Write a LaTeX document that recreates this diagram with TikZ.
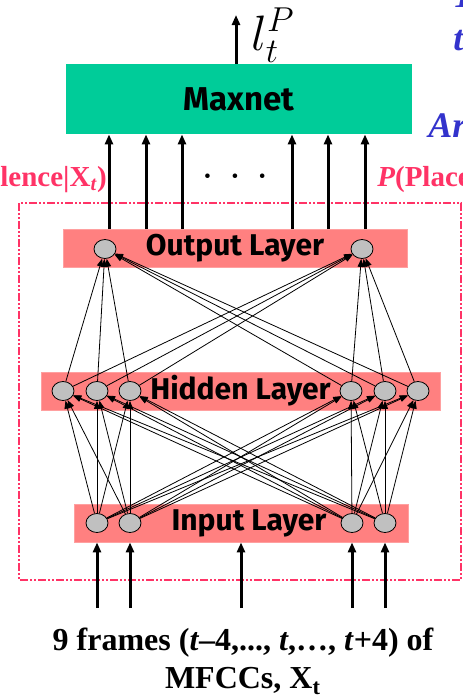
\documentclass[tikz,border=0pt]{standalone}
\usepackage{fontspec}
\setmainfont{Liberation Serif}
\newfontfamily\layerfont{Fira Sans}
\usepackage{tikz}
\usetikzlibrary{arrows.meta, shapes.geometric}
\usepackage{xcolor}
\definecolor{maxgreen}{RGB}{0,204,153}
\definecolor{layerred}{RGB}{255,128,128}
\definecolor{layeredge}{RGB}{255,160,160}
\definecolor{neurongray}{RGB}{192,192,192}
\definecolor{probred}{RGB}{255,51,102}
\definecolor{noteblue}{RGB}{51,51,204}

\begin{document}
\begin{tikzpicture}[x=0.5pt, y=-0.5pt,
    box/.style={rectangle, fill=maxgreen, inner sep=0pt, font=\layerfont\bfseries\fontsize{16.5}{18}\selectfont},
    layer/.style={rectangle, fill=layerred, draw=layeredge, thin, inner sep=0pt, minimum height=19pt, font=\layerfont\bfseries\fontsize{15}{17}\selectfont},
    neuron/.style={ellipse, draw, fill=neurongray, thin, minimum width=11pt, minimum height=9.5pt, inner sep=0pt},
    conn/.style={-{Triangle[length=4pt, width=3pt]}, line width=0.4pt},
    feed/.style={-{Triangle[length=5pt, width=4pt]}, line width=1.5pt},
    prob/.style={font=\bfseries\fontsize{14.5}{16}\selectfont, text=probred, inner sep=0pt, anchor=base west},
    note/.style={font=\bfseries\itshape\fontsize{18}{20}\selectfont, text=noteblue, inner sep=0pt, anchor=base west},
    frame/.style={draw=probred, line width=1pt, dash pattern=on 4pt off 1pt on 1pt off 1pt on 1pt off 1pt}]
\useasboundingbox (0,0) rectangle (462,696);

% dash-dot frame round the network
\draw[frame] (19,203) rectangle (461,580);

% layers
\node[box, minimum width=173pt, minimum height=35pt] (maxnet) at (239,99) {Maxnet};
\node[layer, minimum width=172pt] (outlayer) at (235,248.5) {Output Layer};
\node[layer, minimum width=199.5pt] (hidlayer) at (240.5,391) {Hidden Layer};
\node[layer, minimum width=167pt] (inlayer) at (241,523) {\hspace{8pt}Input Layer};

% neurons
\node[neuron] (o1) at (105,249) {};
\node[neuron] (o2) at (362,249) {};
\node[neuron] (h1) at (63,391) {};
\node[neuron] (h2) at (97,391) {};
\node[neuron] (h3) at (130,391) {};
\node[neuron] (h4) at (351,391) {};
\node[neuron] (h5) at (385,391) {};
\node[neuron] (h6) at (418,391) {};
\node[neuron] (x1) at (97,523) {};
\node[neuron] (x2) at (130,523) {};
\node[neuron] (x3) at (352,523) {};
\node[neuron] (x4) at (385,523) {};

% hidden -> output
\draw[conn] (h1) -- (o1);
\draw[conn] (h1) -- (o2);
\draw[conn] (h2) -- (o1);
\draw[conn] (h2) -- (o2);
\draw[conn] (h3) -- (o1);
\draw[conn] (h3) -- (o2);
\draw[conn] (h4) -- (o1);
\draw[conn] (h4) -- (o2);
\draw[conn] (h5) -- (o1);
\draw[conn] (h5) -- (o2);
\draw[conn] (h6) -- (o1);
\draw[conn] (h6) -- (o2);

% input -> hidden
\draw[conn] (x1) -- (h1);
\draw[conn] (x1) -- (h2);
\draw[conn] (x1) -- (h3);
\draw[conn] (x1) -- (h4);
\draw[conn] (x1) -- (h5);
\draw[conn] (x1) -- (h6);
\draw[conn] (x2) -- (h1);
\draw[conn] (x2) -- (h2);
\draw[conn] (x2) -- (h3);
\draw[conn] (x2) -- (h4);
\draw[conn] (x2) -- (h5);
\draw[conn] (x2) -- (h6);
\draw[conn] (x3) -- (h1);
\draw[conn] (x3) -- (h2);
\draw[conn] (x3) -- (h3);
\draw[conn] (x3) -- (h4);
\draw[conn] (x3) -- (h5);
\draw[conn] (x3) -- (h6);
\draw[conn] (x4) -- (h1);
\draw[conn] (x4) -- (h2);
\draw[conn] (x4) -- (h3);
\draw[conn] (x4) -- (h4);
\draw[conn] (x4) -- (h5);
\draw[conn] (x4) -- (h6);

% output layer -> maxnet
\draw[feed] (outlayer.north -| 109,0) -- (maxnet.south -| 109,0);
\draw[feed] (outlayer.north -| 146,0) -- (maxnet.south -| 146,0);
\draw[feed] (outlayer.north -| 182,0) -- (maxnet.south -| 182,0);
\draw[feed] (outlayer.north -| 292,0) -- (maxnet.south -| 292,0);
\draw[feed] (outlayer.north -| 328,0) -- (maxnet.south -| 328,0);
\draw[feed] (outlayer.north -| 365,0) -- (maxnet.south -| 365,0);
\node[font=\bfseries\fontsize{14}{16}\selectfont] (dots) at (235,180) {·\hspace{9pt}·\hspace{9pt}·};

% maxnet output
\coordinate (lt) at (236,15);
\draw[feed] (maxnet.north -| lt) -- (lt);
\node[inner sep=0pt, anchor=base west, font=\fontsize{25}{27}\selectfont] (label) at (251,50) {$l_t^P$};

% frame inputs
\coordinate (f1) at (97,608);
\coordinate (f2) at (130,608);
\coordinate (f3) at (241,608);
\coordinate (f4) at (352,608);
\coordinate (f5) at (385,608);
\draw[feed] (f1) -- (f1 |- inlayer.south);
\draw[feed] (f2) -- (f2 |- inlayer.south);
\draw[feed] (f3) -- (f3 |- inlayer.south);
\draw[feed] (f4) -- (f4 |- inlayer.south);
\draw[feed] (f5) -- (f5 |- inlayer.south);

% class posteriors and side notes
\node[prob] (psil) at (0,186) {lence\textbar X\textsubscript{\itshape t})};
\node[prob] (pplace) at (377,186) {\itshape P\upshape(Place};
\node[note] (note1) at (452,7) {T};
\node[note] (note2) at (453,50) {t};
\node[note] (note3) at (428,137) {Ar};

\node[inner sep=0pt, anchor=north, align=center, font=\bfseries\fontsize{16}{19}\selectfont] (mfcc) at (243,628)
  {9 frames (\textit{t}–4,..., \textit{t},…, \textit{t}+4) of\\MFCCs, X\textsubscript{t}};
\end{tikzpicture}
\end{document}
